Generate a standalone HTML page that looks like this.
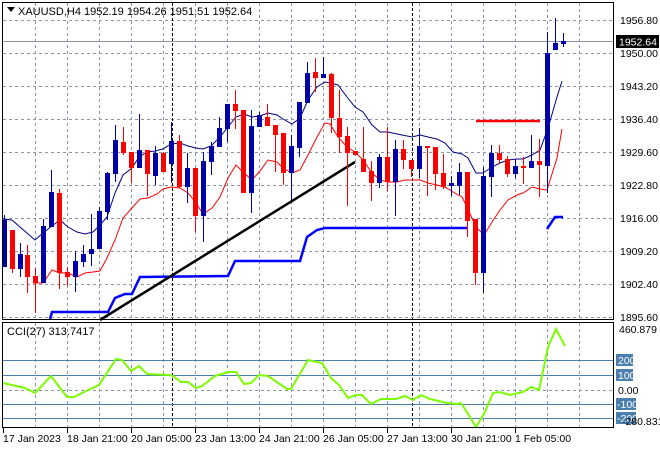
<!DOCTYPE html>
<html><head><meta charset="utf-8"><style>
html,body{margin:0;padding:0;background:#fff;}
svg{display:block;font-family:"Liberation Sans",sans-serif;}
</style></head><body>
<svg width="660" height="450" viewBox="0 0 660 450" xmlns="http://www.w3.org/2000/svg">
<rect width="660" height="450" fill="#fff"/>
<!-- grid main -->
<g stroke="#8a96a4" stroke-width="1" stroke-dasharray="3,3" fill="none">
<path d="M3 20.5H613M3 53.5H613M3 86.5H613M3 119.5H613M3 152.5H613M3 185.5H613M3 218.5H613M3 251.5H613M3 284.5H613M3 317.5H613"/>
<path d="M35.5 3V319M67.5 3V319M99.5 3V319M131.5 3V319M163.5 3V319M195.5 3V319M227.5 3V319M259.5 3V319M291.5 3V319M323.5 3V319M355.5 3V319M387.5 3V319M419.5 3V319M451.5 3V319M483.5 3V319M515.5 3V319M547.5 3V319M579.5 3V319"/>
<path d="M35.5 323V427M67.5 323V427M99.5 323V427M131.5 323V427M163.5 323V427M195.5 323V427M227.5 323V427M259.5 323V427M291.5 323V427M323.5 323V427M355.5 323V427M387.5 323V427M419.5 323V427M451.5 323V427M483.5 323V427M515.5 323V427M547.5 323V427M579.5 323V427"/>
<path d="M3 390.5H613"/>
</g>
<g stroke="#000" stroke-width="1" stroke-dasharray="3,2">
<path d="M172.5 3V319M412.5 3V319M172.5 323V427M412.5 323V427"/>
</g>
<!-- current price line -->
<path d="M3 41.5H613" stroke="#8a96a4" stroke-width="1"/>
<!-- blue step line -->
<polyline fill="none" stroke="#0000ff" stroke-width="2.5" points="50,319 52,312 108,312 115,298 125,294 132,294 140,277 228,276 235,261 300,261 307,237 317,230 325,228 467,228"/>
<polyline fill="none" stroke="#0000ff" stroke-width="2.5" points="547,229 555,217 563,217"/>
<!-- trendline -->
<line x1="100" y1="320" x2="355" y2="162" stroke="#000" stroke-width="2.5"/>
<!-- red horizontal -->
<line x1="476" y1="121" x2="540" y2="121" stroke="#ff0000" stroke-width="2.5"/>
<!-- MAs -->
<polyline fill="none" stroke="#000080" stroke-width="1" points="3,219 12,220 20,227 27,233 35,240 43,233 52,226 60,220 68,227 77,232 85,234 93,232 100,225 107,217 115,193 123,175 132,168 139,157 147,152 155,151 163,149 171,144 180,143 188,146 196,148 203,149 211,146 220,137 228,127 236,117 244,114 252,117 260,116 268,113 277,115 283,119 292,124 300,118 308,100 317,87 325,82 330,83 338,85 347,97 355,107 363,112 372,125 380,132 388,132 397,134 412,137 420,135 428,137 437,139 445,143 453,152 462,154 468,158 476,173 483,173 492,167 500,163 508,160 517,159 523,159 532,155 540,150 548,128 557,97 562,81"/>
<polyline fill="none" stroke="#ff0000" stroke-width="1" points="33,283 43,283 52,270 60,273 68,273 77,277 85,273 93,272 100,271 107,258 115,240 123,218 132,208 140,199 148,198 157,194 163,189 171,187 180,188 188,193 196,203 203,214 212,208 220,197 228,178 236,165 244,173 252,180 260,171 268,160 277,162 283,168 292,173 300,170 308,155 317,137 325,123 330,124 338,137 347,147 355,152 363,160 372,173 380,180 388,182 397,182 405,180 412,180 420,180 428,183 437,185 445,187 453,192 462,197 467,207 476,227 484,235 492,222 500,210 508,200 517,195 523,193 532,187 540,189 547,190 557,158 562,129"/>
<!-- blue candles -->
<g fill="#0000a8" stroke="#0000a8">
<path fill="none" stroke-width="1" d="M4.5 215V267M20.5 243V277M43.5 219V283M51.5 170V227M75.5 251V292M83.5 245V267M91.5 214V266M99.5 207V249M107.5 172V220M115.5 125V182M139.5 114V168M155.5 146V185M171.5 122V183M187.5 153V203M203.5 152V242M211.5 142V175M219.5 117V147M227.5 104V142M251.5 110V213M259.5 112V127M291.5 135V200M299.5 102V157M307.5 62V103M323.5 57V78M379.5 154V188M395.5 140V216M419.5 128V178M451.5 176V196M459.5 163V195M483.5 167V293M491.5 145V197M515.5 159V178M531.5 135V168M547.5 32V193M555.5 18V50M563.5 33V47"/>
<g stroke="none">
<rect x="2" y="220" width="5" height="47"/><rect x="18" y="254" width="5" height="15"/><rect x="41" y="226" width="5" height="57"/><rect x="49" y="192" width="5" height="35"/><rect x="73" y="261" width="5" height="16"/><rect x="81" y="254" width="5" height="8"/><rect x="89" y="249" width="5" height="5"/><rect x="97" y="211" width="5" height="38"/><rect x="105" y="173" width="5" height="39"/><rect x="113" y="140" width="5" height="34"/><rect x="137" y="150" width="5" height="18"/><rect x="153" y="153" width="5" height="23"/><rect x="169" y="141" width="5" height="23"/><rect x="185" y="168" width="5" height="19"/><rect x="201" y="161" width="5" height="55"/><rect x="209" y="146" width="5" height="16"/><rect x="217" y="128" width="5" height="19"/><rect x="225" y="104" width="5" height="25"/><rect x="249" y="126" width="5" height="67"/><rect x="257" y="115" width="5" height="12"/><rect x="289" y="146" width="5" height="27"/><rect x="297" y="102" width="5" height="46"/><rect x="305" y="73" width="5" height="30"/><rect x="321" y="74" width="5" height="4"/><rect x="377" y="157" width="5" height="26"/><rect x="393" y="149" width="5" height="33"/><rect x="417" y="146" width="5" height="23"/><rect x="449" y="183" width="5" height="3"/><rect x="457" y="172" width="5" height="14"/><rect x="481" y="176" width="5" height="97"/><rect x="489" y="153" width="5" height="24"/><rect x="513" y="166" width="5" height="8"/><rect x="529" y="161" width="5" height="7"/><rect x="545" y="53" width="5" height="113"/><rect x="553" y="43" width="5" height="7"/><rect x="561" y="41" width="5" height="3"/>
</g></g>
<!-- red candles -->
<g fill="#ff0000">
<path fill="none" stroke="#ff0000" stroke-width="1" d="M12.5 230V273M27.5 245V293M35.5 268V313M59.5 189V289M67.5 267V286M123.5 127V155M131.5 152V183M147.5 150V196M163.5 152V172M179.5 135V188M195.5 168V232M235.5 90V129M243.5 110V193M267.5 104V126M275.5 125V172M283.5 133V185M315.5 58V92M331.5 73V133M339.5 90V153M347.5 127V206M355.5 151V155M363.5 127V172M371.5 161V201M387.5 127V191M403.5 140V169M411.5 160V177M427.5 146V196M435.5 147V190M443.5 154V189M467.5 172V237M475.5 219V285M499.5 145V164M507.5 156V177M523.5 157V184M539.5 139V197"/>
<rect x="10" y="230" width="5" height="39"/><rect x="25" y="255" width="5" height="22"/><rect x="33" y="276" width="5" height="7"/><rect x="57" y="193" width="5" height="80"/><rect x="65" y="272" width="5" height="5"/><rect x="121" y="142" width="5" height="11"/><rect x="129" y="152" width="5" height="16"/><rect x="145" y="150" width="5" height="24"/><rect x="161" y="153" width="5" height="19"/><rect x="177" y="141" width="5" height="46"/><rect x="193" y="168" width="5" height="48"/><rect x="233" y="104" width="5" height="7"/><rect x="241" y="110" width="5" height="83"/><rect x="265" y="117" width="5" height="9"/><rect x="273" y="125" width="5" height="10"/><rect x="281" y="133" width="5" height="40"/><rect x="313" y="72" width="5" height="6"/><rect x="329" y="74" width="5" height="44"/><rect x="337" y="118" width="5" height="19"/><rect x="345" y="136" width="5" height="17"/><rect x="353" y="151" width="5" height="4"/><rect x="361" y="159" width="5" height="13"/><rect x="369" y="171" width="5" height="12"/><rect x="385" y="157" width="5" height="25"/><rect x="401" y="149" width="5" height="11"/><rect x="409" y="160" width="5" height="9"/><rect x="425" y="146" width="5" height="2"/><rect x="433" y="147" width="5" height="27"/><rect x="441" y="173" width="5" height="14"/><rect x="465" y="172" width="5" height="49"/><rect x="473" y="219" width="5" height="54"/><rect x="497" y="153" width="5" height="7"/><rect x="505" y="159" width="5" height="15"/><rect x="521" y="166" width="5" height="2"/><rect x="537" y="161" width="5" height="4"/>
</g>
<!-- CCI levels -->
<g stroke="#4a7fae" stroke-width="1">
<path d="M3 360.5H613M3 375.5H613M3 404.5H613M3 418.5H613"/>
</g>
<polyline fill="none" stroke="#7cfc00" stroke-width="2" points="3,383 25,388 35,393 51,376 67,397 74,397 84,392 99,385 116,359 122,360 131,371 139,366 147,374 169,375 173,376 181,382 188,382 196,388 202,386 215,376 228,372 236,372 244,384 251,383 259,375 268,376 287,389 291,389 308,360 322,363 331,378 339,385 348,398 356,395 362,395 371,404 381,399 396,399 405,396 413,400 421,395 430,399 447,403 457,404 461,403 468,414 476,427 485,412 493,393 499,392 510,395 523,392 531,387 539,390 548,347 556,329 565,346"/>
<!-- frames -->
<rect x="2.5" y="2.5" width="611" height="317" fill="none" stroke="#000"/>
<rect x="2.5" y="322.5" width="611" height="105" fill="none" stroke="#000"/>
<!-- header text -->
<path d="M7 7h8l-4 5z" fill="#000"/>
<text x="18" y="15" font-size="11" fill="#000">XAUUSD,H4  1952.19 1954.26 1951.51 1952.64</text>
<text x="7" y="335" font-size="11" fill="#000">CCI(27) 313.7417</text>
<!-- price axis -->
<g font-size="10.5" fill="#000">
<text x="620" y="24">1956.80</text>
<text x="620" y="57">1950.00</text>
<text x="620" y="90">1943.20</text>
<text x="620" y="123">1936.40</text>
<text x="620" y="156">1929.60</text>
<text x="620" y="189">1922.80</text>
<text x="620" y="222">1916.00</text>
<text x="620" y="255">1909.20</text>
<text x="620" y="288">1902.40</text>
<text x="620" y="321">1895.60</text>
</g>
<rect x="616" y="35" width="43" height="13" fill="#000"/>
<text x="619" y="45.5" font-size="10.5" fill="#fff">1952.64</text>
<g font-size="10.5">
<text x="619" y="333" fill="#000">460.879</text>
<rect x="616" y="354" width="17" height="12" fill="#4a7fae"/><text x="618" y="364" fill="#fff">200</text>
<rect x="616" y="369" width="17" height="12" fill="#4a7fae"/><text x="618" y="379" fill="#fff">100</text>
<text x="618" y="394" fill="#000">0.00</text>
<rect x="616" y="398" width="20" height="12" fill="#4a7fae"/><text x="617" y="408" fill="#fff">-100</text>
<rect x="616" y="412" width="20" height="12" fill="#4a7fae"/><text x="617" y="422" fill="#fff">-200</text>
<text x="622" y="425" fill="#000">-280.8312</text>
</g>
<!-- time axis -->
<g stroke="#000"><path d="M3.5 428V433M67.5 428V433M131.5 428V433M195.5 428V433M259.5 428V433M323.5 428V433M387.5 428V433M451.5 428V433M515.5 428V433"/></g>
<g font-size="10.5" fill="#000">
<text x="3" y="442">17 Jan 2023</text>
<text x="67" y="442">18 Jan 21:00</text>
<text x="131" y="442">20 Jan 05:00</text>
<text x="195" y="442">23 Jan 13:00</text>
<text x="259" y="442">24 Jan 21:00</text>
<text x="323" y="442">26 Jan 05:00</text>
<text x="387" y="442">27 Jan 13:00</text>
<text x="451" y="442">30 Jan 21:00</text>
<text x="515" y="442">1 Feb 05:00</text>
</g>
</svg>
</body></html>
